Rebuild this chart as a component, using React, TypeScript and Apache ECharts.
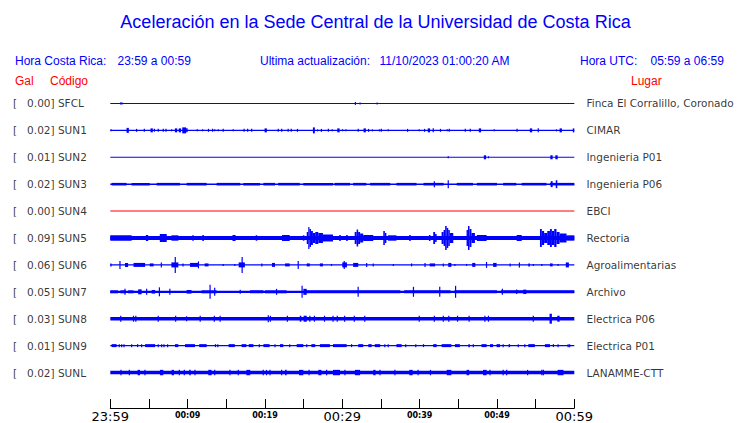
import React, { useEffect, useRef } from 'react';
import * as echarts from 'echarts';

// ---------- data ----------
const TITLE = 'Aceleración en la Sede Central de la Universidad de Costa Rica';
const HEADER_LOCAL = ['Hora Costa Rica:', '23:59 a 00:59'];
const HEADER_UPDATE = ['Ultima actualización:', '11/10/2023 01:00:20 AM'];
const HEADER_UTC = ['Hora UTC:', '05:59 a 06:59'];
const COLUMN_HEADS = ['Gal', 'Código', 'Lugar'];

const CODES = ['SFCL', 'SUN1', 'SUN2', 'SUN3', 'SUN4', 'SUN5', 'SUN6', 'SUN7', 'SUN8', 'SUN9', 'SUNL'];
const PEAK_GAL = [0.0, 0.02, 0.01, 0.02, 0.0, 0.09, 0.06, 0.05, 0.03, 0.01, 0.02];
const PLACES = [
  'Finca El Corralillo, Coronado', 'CIMAR', 'Ingenieria P01', 'Ingenieria P06', 'EBCI', 'Rectoria',
  'Agroalimentarias', 'Archivo', 'Electrica P06', 'Electrica P01', 'LANAMME-CTT',
];
// background noise half-amplitude of each trace
const BASE_AMP = [0.5, 0.7, 0.5, 0.7, 0.5, 1.9, 0.65, 1.1, 1.7, 0.65, 1.7];
const TRACE_COLORS = ['#0000ff', '#0000ff', '#0000ff', '#0000ff', '#ff0000', '#0000ff', '#0000ff', '#0000ff', '#0000ff', '#0000ff', '#0000ff'];

const TICK_MINUTES = [0, 10, 20, 30, 40, 50, 60];
const TICK_LABELS = ['23:59', '00:09', '00:19', '00:29', '00:39', '00:49', '00:59'];
const MAJOR_LABELS = ['23:59', '00:29', '00:59'];

// bursts: [start minute, end minute, half-amplitude]
const SFCL_B = [[1.25, 1.6, 1], [31.7, 31.7, 1.5], [32.3, 32.3, 1], [34.5, 34.5, 1]];
const SUN1_B = [
  [0.1, 0.1, 1], [2.1, 2.4, 2.5], [3.4, 3.4, 1.5], [4.4, 4.4, 1.5], [5.2, 5.5, 2], [5.7, 5.7, 1.5], [6.2, 6.2, 1.5],
  [6.85, 6.85, 1.5], [7.2, 7.2, 1.5], [7.93, 7.93, 1], [8.35, 8.65, 2], [8.85, 9.15, 2], [9.3, 9.8, 3], [9.8, 10.0, 2],
  [11.25, 11.25, 1], [11.94, 11.94, 1], [12.7, 12.7, 1.5], [13.23, 13.23, 1.5], [13.5, 13.5, 1], [13.97, 13.97, 1],
  [14.6, 14.6, 1.5], [15.9, 15.9, 1], [17.3, 17.3, 1.5], [17.76, 17.76, 1.5], [18.28, 18.28, 1.5], [19.95, 20.25, 2],
  [21.72, 21.72, 1.5], [22.16, 22.16, 1.5], [23.0, 23.0, 1.5], [23.4, 23.4, 1.5], [24.2, 24.2, 1.5], [26.2, 26.45, 3],
  [26.8, 26.8, 1], [27.3, 27.3, 1.5], [28.2, 28.2, 1.5], [28.7, 28.7, 1], [29.35, 29.65, 2], [30.04, 30.04, 1],
  [30.47, 30.47, 1], [32.06, 32.06, 1.5], [32.75, 33.05, 2], [33.4, 33.4, 1.5], [33.9, 33.9, 1], [34.8, 34.8, 1],
  [35.04, 35.04, 1.5], [35.94, 35.94, 1], [38.44, 38.44, 1.5], [39.95, 39.95, 1], [40.64, 40.64, 1.5], [41.05, 41.35, 2],
  [41.76, 41.76, 2], [42.7, 42.7, 1.5], [43.57, 43.57, 1], [43.83, 43.83, 1.5], [45.9, 45.9, 1.5], [46.55, 46.55, 1.5],
  [47.65, 47.95, 2], [49.65, 49.65, 1], [52.6, 52.6, 1.5], [54.25, 54.55, 2], [55.34, 55.34, 2], [57.7, 57.7, 1],
  [58.1, 58.4, 2], [59.8, 60, 2],
];
const SUN2_B = [[43.7, 43.7, 1], [48.3, 48.6, 2], [48.9, 48.9, 1], [56.9, 57.2, 2], [57.55, 57.85, 2]];
const SUN3_B = [
  [0.17, 2.1, 1.3], [2.76, 5.1, 1.3], [6.0, 9.0, 1.3], [9.87, 12.46, 1.3], [13.75, 16.8, 1.3], [17.2, 19.35, 1.3],
  [19.8, 21.3, 1.3], [21.7, 24.5, 1.3], [24.96, 28.8, 1.3], [29.0, 31.0, 1.3], [31.4, 33.1, 1.3], [33.6, 36.2, 1.3],
  [37.0, 39.6, 1.3], [40.5, 43.1, 1.3], [44.8, 46.9, 1.3], [47.4, 50.0, 1.3], [50.8, 52.5, 1.3], [53.2, 56.4, 1.3],
  [56.85, 60, 1.3], [41.9, 41.9, 3], [43.7, 43.7, 4], [56.95, 57.2, 3], [57.6, 57.8, 4],
];
const SUN4_B: number[][] = [];
const SUN5_B = [
  [0, 2.76, 2.7], [4.6, 4.9, 3], [6.4, 7.3, 4], [7.9, 8.8, 2.7], [10.6, 10.8, 2.7], [11.9, 12.1, 3], [15.8, 16.2, 3],
  [18.8, 19.0, 2.7], [22.2, 23.2, 3], [24.9, 25.1, 2.7], [25.4, 25.6, 6], [25.6, 25.75, 11], [25.75, 25.95, 9],
  [25.95, 26.2, 7], [26.2, 26.5, 5], [26.5, 26.9, 6], [26.9, 27.5, 5], [27.5, 28.8, 3.5], [29.6, 29.8, 3], [30.5, 30.7, 3],
  [31.6, 31.85, 6], [31.85, 32.05, 8.5], [32.05, 32.3, 6], [32.3, 32.7, 4.5], [32.7, 34.0, 3], [35.3, 35.5, 7],
  [35.5, 35.7, 5], [35.9, 37.0, 2.7], [38.65, 38.85, 3], [41.2, 41.4, 3], [41.76, 42.0, 6], [42.0, 42.2, 4],
  [42.84, 43.1, 6], [43.1, 43.3, 8], [43.3, 43.5, 12], [43.5, 43.7, 10], [43.7, 43.9, 8], [43.9, 44.35, 5],
  [46.07, 46.25, 8], [46.25, 46.45, 12], [46.45, 46.7, 9], [46.7, 47.15, 5], [47.4, 48.66, 3], [52.54, 53.2, 3],
  [55.56, 55.8, 9], [55.8, 56.1, 7], [56.1, 56.5, 5], [56.5, 56.85, 7], [56.85, 57.1, 9], [57.1, 57.4, 7],
  [57.4, 57.7, 9], [57.7, 58.1, 6], [58.1, 59.0, 4.5], [59.0, 60, 2.7],
];
const SUN6_B = [
  [0, 0.17, 1.5], [1.2, 1.3, 4], [1.9, 2.3, 2], [3.0, 4.5, 2], [5.1, 5.6, 1.5], [6.55, 6.65, 2.5], [7.9, 8.8, 2.5],
  [8.35, 8.45, 8], [9.4, 9.4, 1.5], [10.3, 11.4, 2], [11.35, 11.45, 3.5], [12.2, 12.7, 1.5], [14.6, 14.6, 1],
  [16.1, 16.1, 1], [16.6, 17.4, 2.5], [17.0, 17.1, 8], [19.6, 19.6, 1.5], [20.9, 21.3, 2], [22.6, 23.2, 1.5],
  [24.25, 24.35, 4], [25.4, 25.8, 1.5], [27.1, 27.5, 1.5], [28.6, 28.6, 1], [30.0, 30.6, 2.5], [30.2, 30.3, 4],
  [31.4, 32.06, 2], [33.1, 33.2, 2], [34.0, 34.0, 1.5], [36.6, 36.6, 1], [38.96, 38.96, 1.5], [40.65, 40.75, 2],
  [41.3, 42.0, 1.5], [43.06, 43.06, 1.5], [43.7, 44.1, 2], [44.56, 44.56, 1], [46.07, 46.07, 1], [46.8, 47.2, 2],
  [48.6, 48.7, 3], [49.5, 49.95, 2], [51.7, 51.7, 1.5], [52.85, 52.95, 2.5], [54.05, 54.26, 1.5], [54.7, 54.7, 1],
  [55.8, 55.8, 1], [56.85, 57.2, 1.5], [57.9, 57.9, 1], [58.9, 59.3, 2.5],
];
const SUN7_B = [
  [0, 1.0, 1.5], [1.3, 2.0, 1.5], [1.85, 1.95, 3], [2.3, 3.0, 1.5], [3.6, 4.05, 2.5], [4.65, 4.75, 3], [5.35, 5.8, 1.8],
  [6.3, 6.4, 4.5], [7.65, 7.75, 3], [9.87, 10.5, 1.8], [11.8, 13.75, 1.5], [12.85, 12.95, 7], [13.45, 13.55, 4],
  [16.75, 16.85, 2], [18.06, 19.8, 1.5], [20.0, 22.8, 1.5], [21.45, 21.55, 3], [24.75, 24.85, 6], [24.96, 25.4, 3],
  [25.2, 31.0, 1.5], [31.0, 37.5, 1.5], [32.0, 32.1, 5], [38.0, 44.0, 1.5], [39.15, 39.25, 5], [42.55, 42.65, 5],
  [44.5, 50.0, 1.5], [44.6, 44.7, 6], [50.5, 60, 1.5], [50.65, 50.75, 3], [52.5, 52.6, 2.2], [53.4, 53.8, 2.2],
];
const SUN8_B = [
  [1.3, 1.4, 3], [3.0, 3.0, 3], [3.3, 3.3, 3], [6.2, 6.2, 3], [8.45, 8.45, 3], [9.87, 9.87, 2.5], [11.55, 11.7, 3],
  [13.45, 13.45, 3], [14.2, 14.2, 3], [20.35, 20.5, 3.5], [20.7, 20.7, 3], [22.9, 22.9, 3], [24.5, 24.7, 3],
  [25.0, 25.4, 3], [25.8, 25.8, 3], [26.4, 26.4, 3], [27.7, 27.7, 3], [28.8, 28.8, 3], [29.35, 29.35, 3],
  [30.3, 30.3, 3], [31.55, 31.55, 3], [32.9, 32.9, 3], [39.95, 39.95, 3], [41.9, 41.9, 3], [43.06, 43.06, 3],
  [43.7, 43.85, 3], [44.9, 44.9, 3], [46.4, 46.4, 3], [48.44, 48.44, 3], [48.9, 48.9, 3], [54.7, 54.7, 3],
  [56.8, 57.1, 5], [57.8, 58.1, 3],
];
const SUN9_B = [
  [0.17, 0.82, 1.5], [1.16, 1.16, 1.5], [1.47, 1.47, 1.5], [1.77, 1.77, 1.5], [2.76, 2.76, 1.5], [3.53, 3.53, 1.5],
  [4.05, 4.05, 1.5], [4.5, 5.8, 1.5], [6.2, 6.2, 1.5], [6.64, 6.64, 1.5], [6.94, 6.94, 1.5], [7.41, 7.41, 1.5],
  [8.36, 8.8, 1.5], [9.66, 10.95, 1.5], [11.5, 12.46, 1.5], [13.6, 13.6, 1.5], [13.9, 13.9, 1.5], [15.3, 16.1, 1.5],
  [16.98, 17.6, 1.5], [17.9, 18.5, 1.5], [19.27, 19.27, 1.5], [19.8, 20.6, 1.5], [21.3, 21.3, 1.5], [21.94, 22.37, 1.5],
  [23.2, 23.2, 1.5], [24.1, 24.96, 1.5], [25.4, 25.4, 1.5], [26.0, 26.5, 1.5], [27.1, 28.4, 1.5], [28.8, 30.56, 1.5],
  [31.2, 31.2, 1.5], [32.06, 32.7, 1.5], [33.36, 33.8, 1.5], [34.2, 34.9, 1.5], [35.5, 35.5, 1.5], [35.94, 35.94, 1.5],
  [37.0, 37.67, 1.5], [38.2, 38.2, 1.5], [39.5, 39.5, 1.5], [40.5, 40.5, 1.5], [41.76, 42.2, 1.5], [42.84, 44.1, 1.5],
  [44.56, 45.2, 1.5], [46.3, 46.5, 1.5], [46.94, 46.94, 1.5], [48.0, 48.66, 1.5], [49.1, 49.5, 1.5], [49.95, 50.4, 1.5],
  [50.8, 50.8, 1.5], [51.5, 51.7, 1.5], [52.75, 52.75, 1.5], [53.6, 53.6, 1.5], [54.05, 54.9, 1.5], [56.2, 56.85, 1.5],
  [57.3, 57.3, 1.5], [57.9, 57.9, 1.5], [59.2, 59.2, 1.5], [59.4, 59.4, 1.5],
];
const SUNL_B = [
  [1.38, 1.38, 2.7], [2.46, 2.46, 2.7], [3.53, 3.84, 2.7], [4.48, 4.48, 2.7], [6.42, 6.85, 2.7], [7.93, 8.23, 2.7],
  [8.92, 8.92, 2.7], [9.57, 9.57, 2.7], [10.2, 10.4, 2.7], [10.95, 10.95, 2.7], [12.67, 13.1, 2.7], [13.5, 13.5, 2.7],
  [15.47, 15.47, 2.7], [16.55, 16.55, 2.7], [17.6, 18.1, 2.7], [19.78, 19.78, 2.7], [20.2, 20.2, 2.7], [20.65, 20.65, 2.7],
  [22.16, 22.16, 2.7], [22.6, 22.8, 2.7], [24.4, 24.96, 2.7], [25.7, 25.7, 2.7], [26.9, 27.3, 2.7], [27.97, 27.97, 2.7],
  [28.8, 29.7, 2.7], [30.34, 30.34, 2.7], [31.63, 32.3, 2.7], [34.0, 34.3, 2.7], [34.87, 34.87, 2.7], [36.8, 36.8, 2.7],
  [38.66, 39.1, 2.7], [39.8, 39.8, 2.7], [41.4, 41.4, 2.7], [43.5, 44.1, 2.7], [46.07, 46.4, 2.7], [48.2, 48.66, 2.7],
  [49.1, 49.1, 2.7], [50.8, 50.8, 2.7], [51.25, 51.25, 2.7], [53.96, 53.96, 2.7], [55.8, 55.8, 2.7], [56.0, 56.0, 2.7],
  [57.84, 58.6, 2.7],
];
const BURSTS = [SFCL_B, SUN1_B, SUN2_B, SUN3_B, SUN4_B, SUN5_B, SUN6_B, SUN7_B, SUN8_B, SUN9_B, SUNL_B];

// ---------- layout ----------
const W = 740;
const H = 423;
const ROW_TOP = 13.5;
const ROW_STEP = 27;
const BLUE = '#0000ff';
const RED = '#ff0000';
const SANS = 'Liberation Sans';
const DJ = 'DejaVu Sans';

function buildOption() {
  const rowCenter = (i: number) => ROW_TOP + ROW_STEP * i;

  const traceSeries = CODES.map((code, i) => {
    const c = rowCenter(i);
    const data = [[0, 60, c, BASE_AMP[i]], ...BURSTS[i].map((b) => [b[0], b[1], c, b[2]])];
    const color = TRACE_COLORS[i];
    return {
      type: 'custom',
      name: code,
      silent: true,
      data,
      encode: { x: [0, 1], y: 2 },
      renderItem: (params: any, api: any) => {
        const s = api.value(0);
        const e = api.value(1);
        const cc = api.value(2);
        const a = api.value(3);
        const p0 = api.coord([s, cc - a]);
        const p1 = api.coord([e, cc + a]);
        let x = Math.min(p0[0], p1[0]);
        let w = Math.abs(p1[0] - p0[0]);
        if (w < 1.2) {
          x = x - (1.2 - w) / 2;
          w = 1.2;
        }
        const y = Math.min(p0[1], p1[1]);
        const h = Math.max(1, Math.abs(p1[1] - p0[1]));
        return { type: 'rect', shape: { x, y, width: w, height: h }, style: { fill: color } };
      },
    };
  });

  const leftLabels = {
    type: 'scatter',
    silent: true,
    symbolSize: 1,
    itemStyle: { color: 'rgba(0,0,0,0)' },
    data: CODES.map((code, i) => ({
      value: [0, rowCenter(i)],
      label: {
        formatter: '[' + PEAK_GAL[i].toFixed(2).padStart(7, '\u00a0') + ']\u00a0' + code,
      },
    })),
    label: {
      show: true,
      position: 'left',
      distance: 96.8,
      align: 'left',
      verticalAlign: 'middle',
      fontFamily: DJ,
      fontSize: 10.5,
      color: '#000',
    },
  };

  const rightLabels = {
    type: 'scatter',
    silent: true,
    symbolSize: 1,
    itemStyle: { color: 'rgba(0,0,0,0)' },
    data: PLACES.map((p, i) => ({ value: [60, rowCenter(i)], label: { formatter: p } })),
    label: {
      show: true,
      position: 'right',
      distance: 11.7,
      align: 'left',
      verticalAlign: 'middle',
      fontFamily: DJ,
      fontSize: 10.5,
      color: '#000',
    },
  };

  const txt = (text: string, x: number, y: number, fill: string, size = 12, align = 'left') => ({
    type: 'text',
    x,
    y,
    silent: true,
    style: { text, fill, fontSize: size, fontFamily: SANS, align, verticalAlign: 'middle' },
  });

  return {
    animation: false,
    backgroundColor: '#ffffff',
    grid: { left: 110.3, right: W - 574.3, top: 90, bottom: H - 386 },
    xAxis: {
      type: 'value',
      min: 0,
      max: 60,
      interval: 5,
      offset: 23,
      splitLine: { show: false },
      axisLine: { show: true, onZero: false, lineStyle: { color: '#000', width: 1 } },
      axisTick: { show: true, inside: true, length: 9, lineStyle: { color: '#000', width: 1 } },
      axisLabel: {
        margin: 2,
        showMinLabel: true,
        showMaxLabel: true,
        hideOverlap: false,
        formatter: (v: number) => {
          const idx = TICK_MINUTES.indexOf(Math.round(v));
          if (idx < 0) return '';
          const t = TICK_LABELS[idx];
          return MAJOR_LABELS.includes(t) ? '{big|' + t + '}' : '{small|' + t + '}';
        },
        rich: {
          big: { fontFamily: DJ, fontSize: 13, color: '#000' },
          small: { fontFamily: DJ, fontSize: 8, fontWeight: 'bold', color: '#000', padding: [1, 0, 0, 0] },
        },
      },
    },
    yAxis: { type: 'value', min: 0, max: 296, inverse: true, show: false },
    graphic: [
      txt(TITLE, 375.5, 22, BLUE, 18, 'center'),
      txt(HEADER_LOCAL[0], 15, 61, BLUE),
      txt(HEADER_LOCAL[1], 117.5, 61, BLUE),
      txt(HEADER_UPDATE[0], 260, 61, BLUE),
      txt(HEADER_UPDATE[1], 379.5, 61, BLUE),
      txt(HEADER_UTC[0], 580, 61, BLUE),
      txt(HEADER_UTC[1], 650.5, 61, BLUE),
      txt(COLUMN_HEADS[0], 15, 80.5, RED),
      txt(COLUMN_HEADS[1], 50, 80.5, RED),
      txt(COLUMN_HEADS[2], 631, 80.5, RED),
    ],
    series: [...traceSeries, leftLabels, rightLabels],
  };
}

export default function App() {
  const ref = useRef<HTMLDivElement>(null);
  useEffect(() => {
    if (!ref.current) return;
    const chart = echarts.init(ref.current, undefined, { renderer: 'svg' });
    chart.setOption(buildOption() as any);
    return () => chart.dispose();
  }, []);
  return (
    <div
      ref={ref}
      style={{ position: 'absolute', left: 0, top: 0, width: W, height: H, background: '#fff' }}
    />
  );
}
